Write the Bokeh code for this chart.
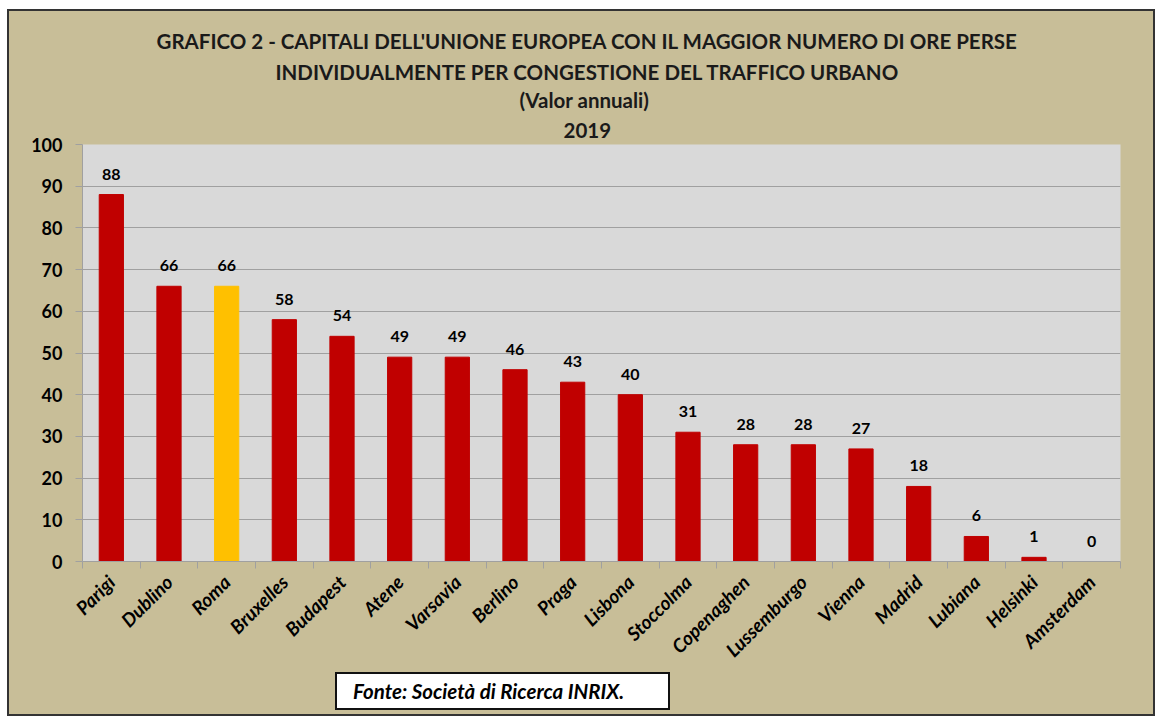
from math import pi
from bokeh.plotting import figure
from bokeh.layouts import column
from bokeh.models import (FixedTicker, ColumnDataSource, LabelSet, Range1d, Title, Div)
from bokeh.embed import file_html
from bokeh.resources import INLINE
from bokeh.core.properties import value

cities = ["Parigi", "Dublino", "Roma", "Bruxelles", "Budapest", "Atene", "Varsavia",
          "Berlino", "Praga", "Lisbona", "Stoccolma", "Copenaghen", "Lussemburgo",
          "Vienna", "Madrid", "Lubiana", "Helsinki", "Amsterdam"]
hours = [88, 66, 66, 58, 54, 49, 49, 46, 43, 40, 31, 28, 28, 27, 18, 6, 1, 0]
highlight = "Roma"
title_lines = [
    "GRAFICO 2 - CAPITALI DELL'UNIONE EUROPEA CON IL MAGGIOR NUMERO DI ORE PERSE",
    "INDIVIDUALMENTE PER CONGESTIONE DEL TRAFFICO URBANO",
    "(Valor annuali)",
    "2019",
]
source_text = "Fonte: Società di Ricerca INRIX."
y_ticks = list(range(0, 101, 10))

FONT = "Lato"
BG = "#C8BE98"
RED = "#C00000"
YELLOW = "#FFC000"

n = len(cities)
xs = [i + 0.5 for i in range(n)]
colors = [YELLOW if c == highlight else RED for c in cities]
src = ColumnDataSource(dict(x=xs, y=hours, c=colors, t=[str(h) for h in hours]))

W, H = 1144, 661
p = figure(width=W, height=H, x_range=Range1d(0, n), y_range=Range1d(0, 100),
           output_backend="svg", toolbar_location=None, title=None,
           min_border_left=73, min_border_right=33, min_border_top=133,
           min_border_bottom=111)
p.background_fill_color = "#D9D9D9"
p.border_fill_color = BG
p.outline_line_color = None

p.vbar(x="x", top="y", width=0.42, color="c", source=src)

p.add_layout(LabelSet(x="x", y="y", text="t", source=src, y_offset=15,
                      text_align="center", text_baseline="bottom",
                      text_font=value(FONT), text_font_style="bold",
                      text_font_size="16px", text_color="#000000"))

# axes
p.xgrid.grid_line_color = None
p.ygrid.grid_line_color = "#A0A0A0"
p.ygrid.grid_line_width = 1.2
p.yaxis.ticker = FixedTicker(ticks=y_ticks)
p.yaxis.axis_line_color = "#A0A0A0"
p.yaxis.major_tick_line_color = "#A0A0A0"
p.yaxis.major_tick_out = 7
p.yaxis.major_tick_in = 0
p.yaxis.minor_tick_line_color = None
p.yaxis.major_label_standoff = 13
p.yaxis.major_label_text_font = FONT
p.yaxis.major_label_text_font_style = "bold"
p.yaxis.major_label_text_font_size = "18px"
p.yaxis.major_label_text_color = "#000000"

p.xaxis.ticker = FixedTicker(ticks=xs, minor_ticks=list(range(n + 1)))
p.xaxis.major_label_overrides = {x: c for x, c in zip(xs, cities)}
p.xaxis.axis_line_color = "#A0A0A0"
p.xaxis.major_tick_line_color = None
p.xaxis.minor_tick_line_color = "#A0A0A0"
p.xaxis.minor_tick_out = 7
p.xaxis.minor_tick_in = 0
p.xaxis.major_label_orientation = pi / 4
p.xaxis.major_label_standoff = 10
p.xaxis.major_label_text_font = FONT
p.xaxis.major_label_text_font_style = "bold italic"
p.xaxis.major_label_text_font_size = "19px"
p.xaxis.major_label_text_color = "#000000"

# titles (nearest the plot first)
title_offsets = [74, 193, 437, 481]
title_standoffs = [7, 2, 3, 14]
for line, off, so in reversed(list(zip(title_lines, title_offsets, title_standoffs))):
    p.add_layout(Title(text=line, align="left", offset=off, standoff=so,
                       text_font=FONT, text_font_style="bold",
                       text_font_size="20.5px", text_color="#1a1a1a"), "above")

source = Div(text=source_text, width=335, height=38, margin=(0, 0, 4, 326),
             styles={"border": "2px solid #111111", "background-color": "white",
                     "box-sizing": "border-box", "padding": "5px 0 0 16px",
                     "font-family": FONT, "font-weight": "bold",
                     "font-style": "italic", "font-size": "20.5px",
                     "color": "#000000", "line-height": "24px",
                     "white-space": "nowrap"})

layout = column(p, source, spacing=0,
                styles={"margin-left": "7px", "margin-top": "9px",
                        "border": "2px solid #333333", "background-color": BG})

open("out.html", "w").write(file_html(layout, INLINE))
